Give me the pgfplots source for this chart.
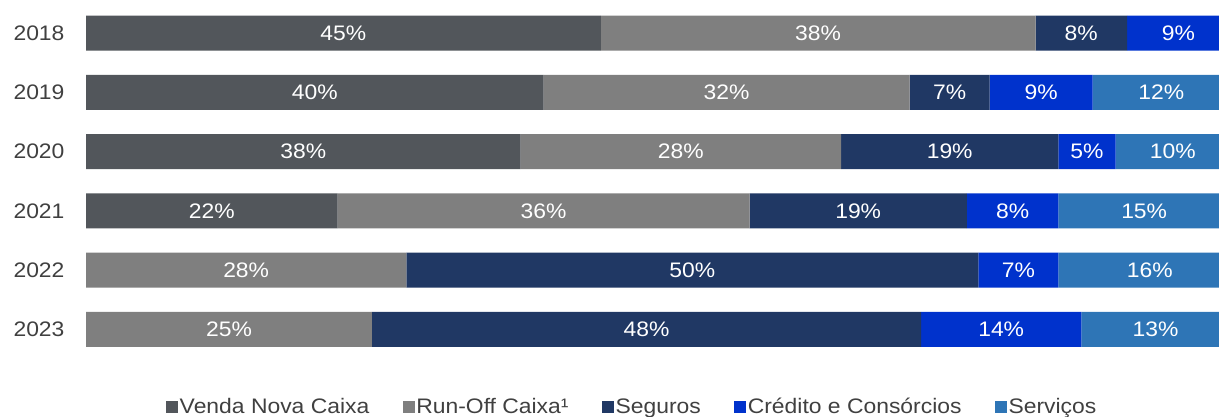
\documentclass[border=0pt]{standalone}
\usepackage{fontspec}
\setmainfont{Liberation Sans}[FakeStretch=1.09]
\usepackage{pgfplots}
\pgfplotsset{compat=1.18}
\usepackage{pgfplotstable}

\definecolor{venda}{RGB}{82,86,91}
\definecolor{runoff}{RGB}{127,127,127}
\definecolor{seguros}{RGB}{32,56,100}
\definecolor{credito}{RGB}{0,50,204}
\definecolor{servicos}{RGB}{46,117,182}
\definecolor{txt}{RGB}{64,64,64}

% share of each line in the year, %
\pgfplotstableread{
row venda runoff seguros credito servicos
0 45 38 8 9 0
1 40 32 7 9 12
2 38 28 19 5 10
3 22 36 19 8 15
4 0 28 50 7 16
5 0 25 48 14 13
}\shares

\newcommand{\bigfont}{\fontsize{21}{25}\selectfont}
\def\segval{0}

\begin{document}
\begin{tikzpicture}
\path[use as bounding box] (0pt,0pt) rectangle (1219pt,-417pt);
\begin{axis}[
    at={(86pt,-3.35pt)}, anchor=north west,
    scale only axis,
    width=1155.4pt, height=355.8pt,
    xbar stacked,
    bar width=35pt,
    xmin=0, xmax=101,
    ymin=-0.5, ymax=5.5,
    y dir=reverse,
    ytick={0,1,2,3,4,5},
    yticklabels={2018,2019,2020,2021,2022,2023},
    xtick=\empty,
    major tick length=0pt,
    axis line style={draw=none},
    /pgf/number format/assume math mode=true,
    yticklabel style={font=\bigfont, text=txt, xshift=-18pt},
    nodes near coords={\ifdim\segval pt>0.5pt \pgfmathprintnumber[fixed,precision=0]{\rawx}\%\fi},
    every node near coord/.append style={
        /utils/exec={\begingroup\pgfkeys{/pgf/fpu=true,/pgf/fpu/output format=fixed}%
            \pgfmathparse{\rawx}\xdef\segval{\pgfmathresult}\endgroup},
        anchor=center, text=white, font=\bigfont},
    legend columns=-1,
    legend style={at={(axis description cs:0.4726,-0.134)}, anchor=center,
        draw=none, fill=none, font=\bigfont, text=txt,
        nodes={inner sep=1.5pt},
        /tikz/every even column/.append style={column sep=32pt}},
    legend image code/.code={\fill[#1] (0pt,-6pt) rectangle (12pt,6pt);},
]
\addplot[fill=venda, draw=none, visualization depends on={rawx \as \rawx}]
    table[x=venda, y=row] {\shares};
\addplot[fill=runoff, draw=none, visualization depends on={rawx \as \rawx}]
    table[x=runoff, y=row] {\shares};
\addplot[fill=seguros, draw=none, visualization depends on={rawx \as \rawx}]
    table[x=seguros, y=row] {\shares};
\addplot[fill=credito, draw=none, visualization depends on={rawx \as \rawx}]
    table[x=credito, y=row] {\shares};
\addplot[fill=servicos, draw=none, visualization depends on={rawx \as \rawx}]
    table[x=servicos, y=row] {\shares};
\legend{Venda Nova Caixa, Run-Off Caixa¹, Seguros, Crédito e Consórcios, Serviços}
\end{axis}
\end{tikzpicture}
\end{document}
